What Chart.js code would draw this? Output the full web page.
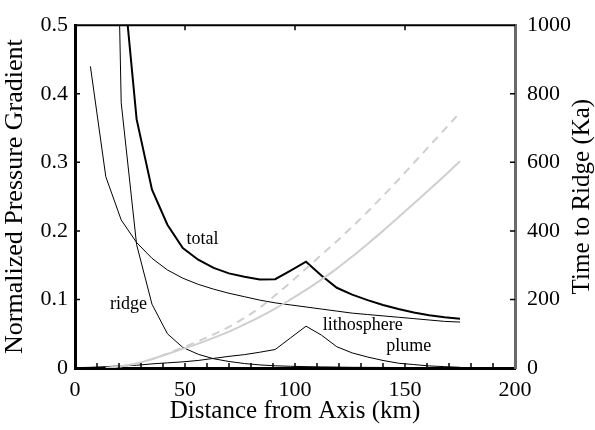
<!DOCTYPE html>
<html>
<head>
<meta charset="utf-8">
<script src="https://cdn.jsdelivr.net/npm/chart.js@4"></script>
<style>
  html, body { margin: 0; padding: 0; background: #fff; }
  #wrap { width: 595px; height: 430px; }
</style>
</head>
<body>
<div id="wrap"><canvas id="gradChart" width="595" height="430"></canvas></div>
<script>
// Distance from axis (km) where the curves are sampled
const distance = [0, 7, 14, 21, 28, 35, 42, 49, 56, 63, 70, 77, 84, 91, 98, 105, 112, 119, 126, 133, 140, 147, 154, 161, 168, 175];

// Normalized pressure gradient components (left axis)
const totalGrad = [null, null, 1.78, 0.60, 0.363, 0.260, 0.209, 0.175, 0.158, 0.146, 0.138, 0.133, 0.129, 0.1295, 0.142, 0.155, 0.135, 0.117, 0.107, 0.099, 0.092, 0.086, 0.081, 0.077, 0.074, 0.072];
const ridgeGrad = [null, null, 1.5, 0.387, 0.180, 0.093, 0.050, 0.030, 0.020, 0.0135, 0.0095, 0.0065, 0.0045, 0.0032, 0.0025, 0.002, 0.0016, 0.0013, 0.001, 0.0009, 0.0008, 0.0007, 0.0006, 0.0005, 0.0005, 0.0004];
const lithGrad = [null, 0.44, 0.279, 0.216, 0.183, 0.160, 0.143, 0.131, 0.122, 0.115, 0.109, 0.104, 0.099, 0.095, 0.092, 0.089, 0.086, 0.083, 0.080, 0.078, 0.076, 0.074, 0.072, 0.070, 0.068, 0.067];
const plumeGrad = [0.0005, 0.001, 0.002, 0.003, 0.004, 0.006, 0.0075, 0.009, 0.011, 0.014, 0.017, 0.0195, 0.023, 0.027, 0.044, 0.061, 0.048, 0.031, 0.022, 0.016, 0.011, 0.007, 0.005, 0.003, 0.002, 0.001];

// Time to ridge (Ka, right axis)
const timeSolid = [null, null, 0, 5, 13, 26, 41, 56, 71, 88, 106, 127, 149, 173, 200, 228, 258, 290, 325, 362, 400, 440, 480, 520, 561, 603];
const timeDashed = [null, null, 0, 5, 13, 26, 42, 60, 78, 98, 120, 146, 176, 212, 250, 290, 330, 370, 412, 456, 502, 549, 598, 647, 696, 745];

// Axis ticks and labels
const xTicks = [0, 50, 100, 150, 200];
const gradTicks = [0, 0.1, 0.2, 0.3, 0.4, 0.5];
const timeTicks = [0, 200, 400, 600, 800, 1000];
const curveLabels = [
    { text: 'total', x: 58, y: 0.188 },
    { text: 'ridge', x: 24.3, y: 0.0925 },
    { text: 'lithosphere', x: 130.8, y: 0.062 },
    { text: 'plume', x: 151.7, y: 0.032 }
];

const serif = '"Liberation Serif", "DejaVu Serif", serif';

function points(values) {
    return distance.map((d, i) => ({ x: d, y: values[i] })).filter(p => p.y !== null);
}

// Draws the inward tick marks, top frame, curve names and right axis title
const decorations = {
    id: 'decorations',
    afterDraw(chart) {
        const { ctx, chartArea: area, scales } = chart;
        const x = scales.x, y = scales.y, y2 = scales.y2;
        ctx.save();

        // top frame line
        ctx.strokeStyle = '#000';
        ctx.lineWidth = 2;
        ctx.beginPath();
        ctx.moveTo(area.left, area.top);
        ctx.lineTo(area.right, area.top);
        ctx.stroke();

        ctx.lineWidth = 1.5;
        ctx.beginPath();
        for (let v = 10; v < 200; v += 10) {
            const px = x.getPixelForValue(v);
            ctx.moveTo(px, area.bottom);
            ctx.lineTo(px, area.bottom - 5);
        }
        xTicks.slice(1, -1).forEach(v => {
            const px = x.getPixelForValue(v);
            ctx.moveTo(px, area.top);
            ctx.lineTo(px, area.top + 5);
        });
        gradTicks.slice(1, -1).forEach(v => {
            const py = y.getPixelForValue(v);
            ctx.moveTo(area.left, py);
            ctx.lineTo(area.left + 5, py);
        });
        timeTicks.slice(1, -1).forEach(v => {
            const py = y2.getPixelForValue(v);
            ctx.moveTo(area.right, py);
            ctx.lineTo(area.right - 5, py);
        });
        ctx.stroke();

        // curve names
        ctx.fillStyle = '#000';
        ctx.font = '18px ' + serif;
        ctx.textAlign = 'center';
        ctx.textBaseline = 'middle';
        curveLabels.forEach(l => {
            ctx.fillText(l.text, x.getPixelForValue(l.x), y.getPixelForValue(l.y));
        });

        // right axis title, reading bottom to top
        ctx.font = '25px ' + serif;
        ctx.translate(582, (area.top + area.bottom) / 2);
        ctx.rotate(-Math.PI / 2);
        ctx.fillText('Time to Ridge (Ka)', 0, 0);
        ctx.restore();
    }
};

const ctx = document.getElementById('gradChart').getContext('2d');
new Chart(ctx, {
    type: 'line',
    data: {
        datasets: [
            { label: 'time (dashed)', data: points(timeDashed), yAxisID: 'y2', borderColor: '#cfcfcf', borderWidth: 2, borderDash: [8, 6], cubicInterpolationMode: 'monotone' },
            { label: 'time', data: points(timeSolid), yAxisID: 'y2', borderColor: '#cfcfcf', borderWidth: 2, cubicInterpolationMode: 'monotone' },
            { label: 'plume', data: points(plumeGrad), yAxisID: 'y', borderColor: '#000', borderWidth: 1 },
            { label: 'lithosphere', data: points(lithGrad), yAxisID: 'y', borderColor: '#000', borderWidth: 1 },
            { label: 'ridge', data: points(ridgeGrad), yAxisID: 'y', borderColor: '#000', borderWidth: 1 },
            { label: 'total', data: points(totalGrad), yAxisID: 'y', borderColor: '#000', borderWidth: 2 }
        ]
    },
    options: {
        responsive: false,
        animation: false,
        layout: { padding: { top: 22, left: 0, right: 0, bottom: 0 } },
        elements: {
            point: { radius: 0 },
            line: { tension: 0, fill: false }
        },
        scales: {
            x: {
                type: 'linear',
                min: 0,
                max: 200,
                afterFit: s => { s.height = 62; },
                afterBuildTicks: s => { s.ticks = xTicks.map(v => ({ value: v })); },
                grid: { display: false, drawTicks: false },
                border: { display: true, color: '#000', width: 3 },
                ticks: { padding: 9, color: '#000', font: { family: serif, size: 22 } },
                title: {
                    display: true,
                    text: 'Distance from Axis (km)',
                    color: '#000',
                    font: { family: serif, size: 25 },
                    padding: { top: 0, bottom: 4 }
                }
            },
            y: {
                position: 'left',
                min: 0,
                max: 0.5,
                afterFit: s => { s.width = 75; },
                afterBuildTicks: s => { s.ticks = gradTicks.map(v => ({ value: v })); },
                grid: { display: false, drawTicks: false },
                border: { display: true, color: '#000', width: 3 },
                ticks: {
                    padding: 7,
                    color: '#000',
                    font: { family: serif, size: 22 },
                    callback: v => String(+v.toFixed(1))
                },
                title: {
                    display: true,
                    text: 'Normalized Pressure Gradient',
                    color: '#000',
                    font: { family: serif, size: 26 },
                    padding: { top: 0, bottom: 0 }
                }
            },
            y2: {
                position: 'right',
                min: 0,
                max: 1000,
                afterFit: s => { s.width = 80; },
                afterBuildTicks: s => { s.ticks = timeTicks.map(v => ({ value: v })); },
                grid: { display: false, drawTicks: false },
                border: { display: true, color: '#6a6a6a', width: 3 },
                ticks: {
                    padding: 12,
                    color: '#000',
                    font: { family: serif, size: 22 },
                    callback: v => String(v)
                }
            }
        },
        plugins: {
            legend: { display: false },
            tooltip: { enabled: false }
        }
    },
    plugins: [decorations]
});
</script>
</body>
</html>
